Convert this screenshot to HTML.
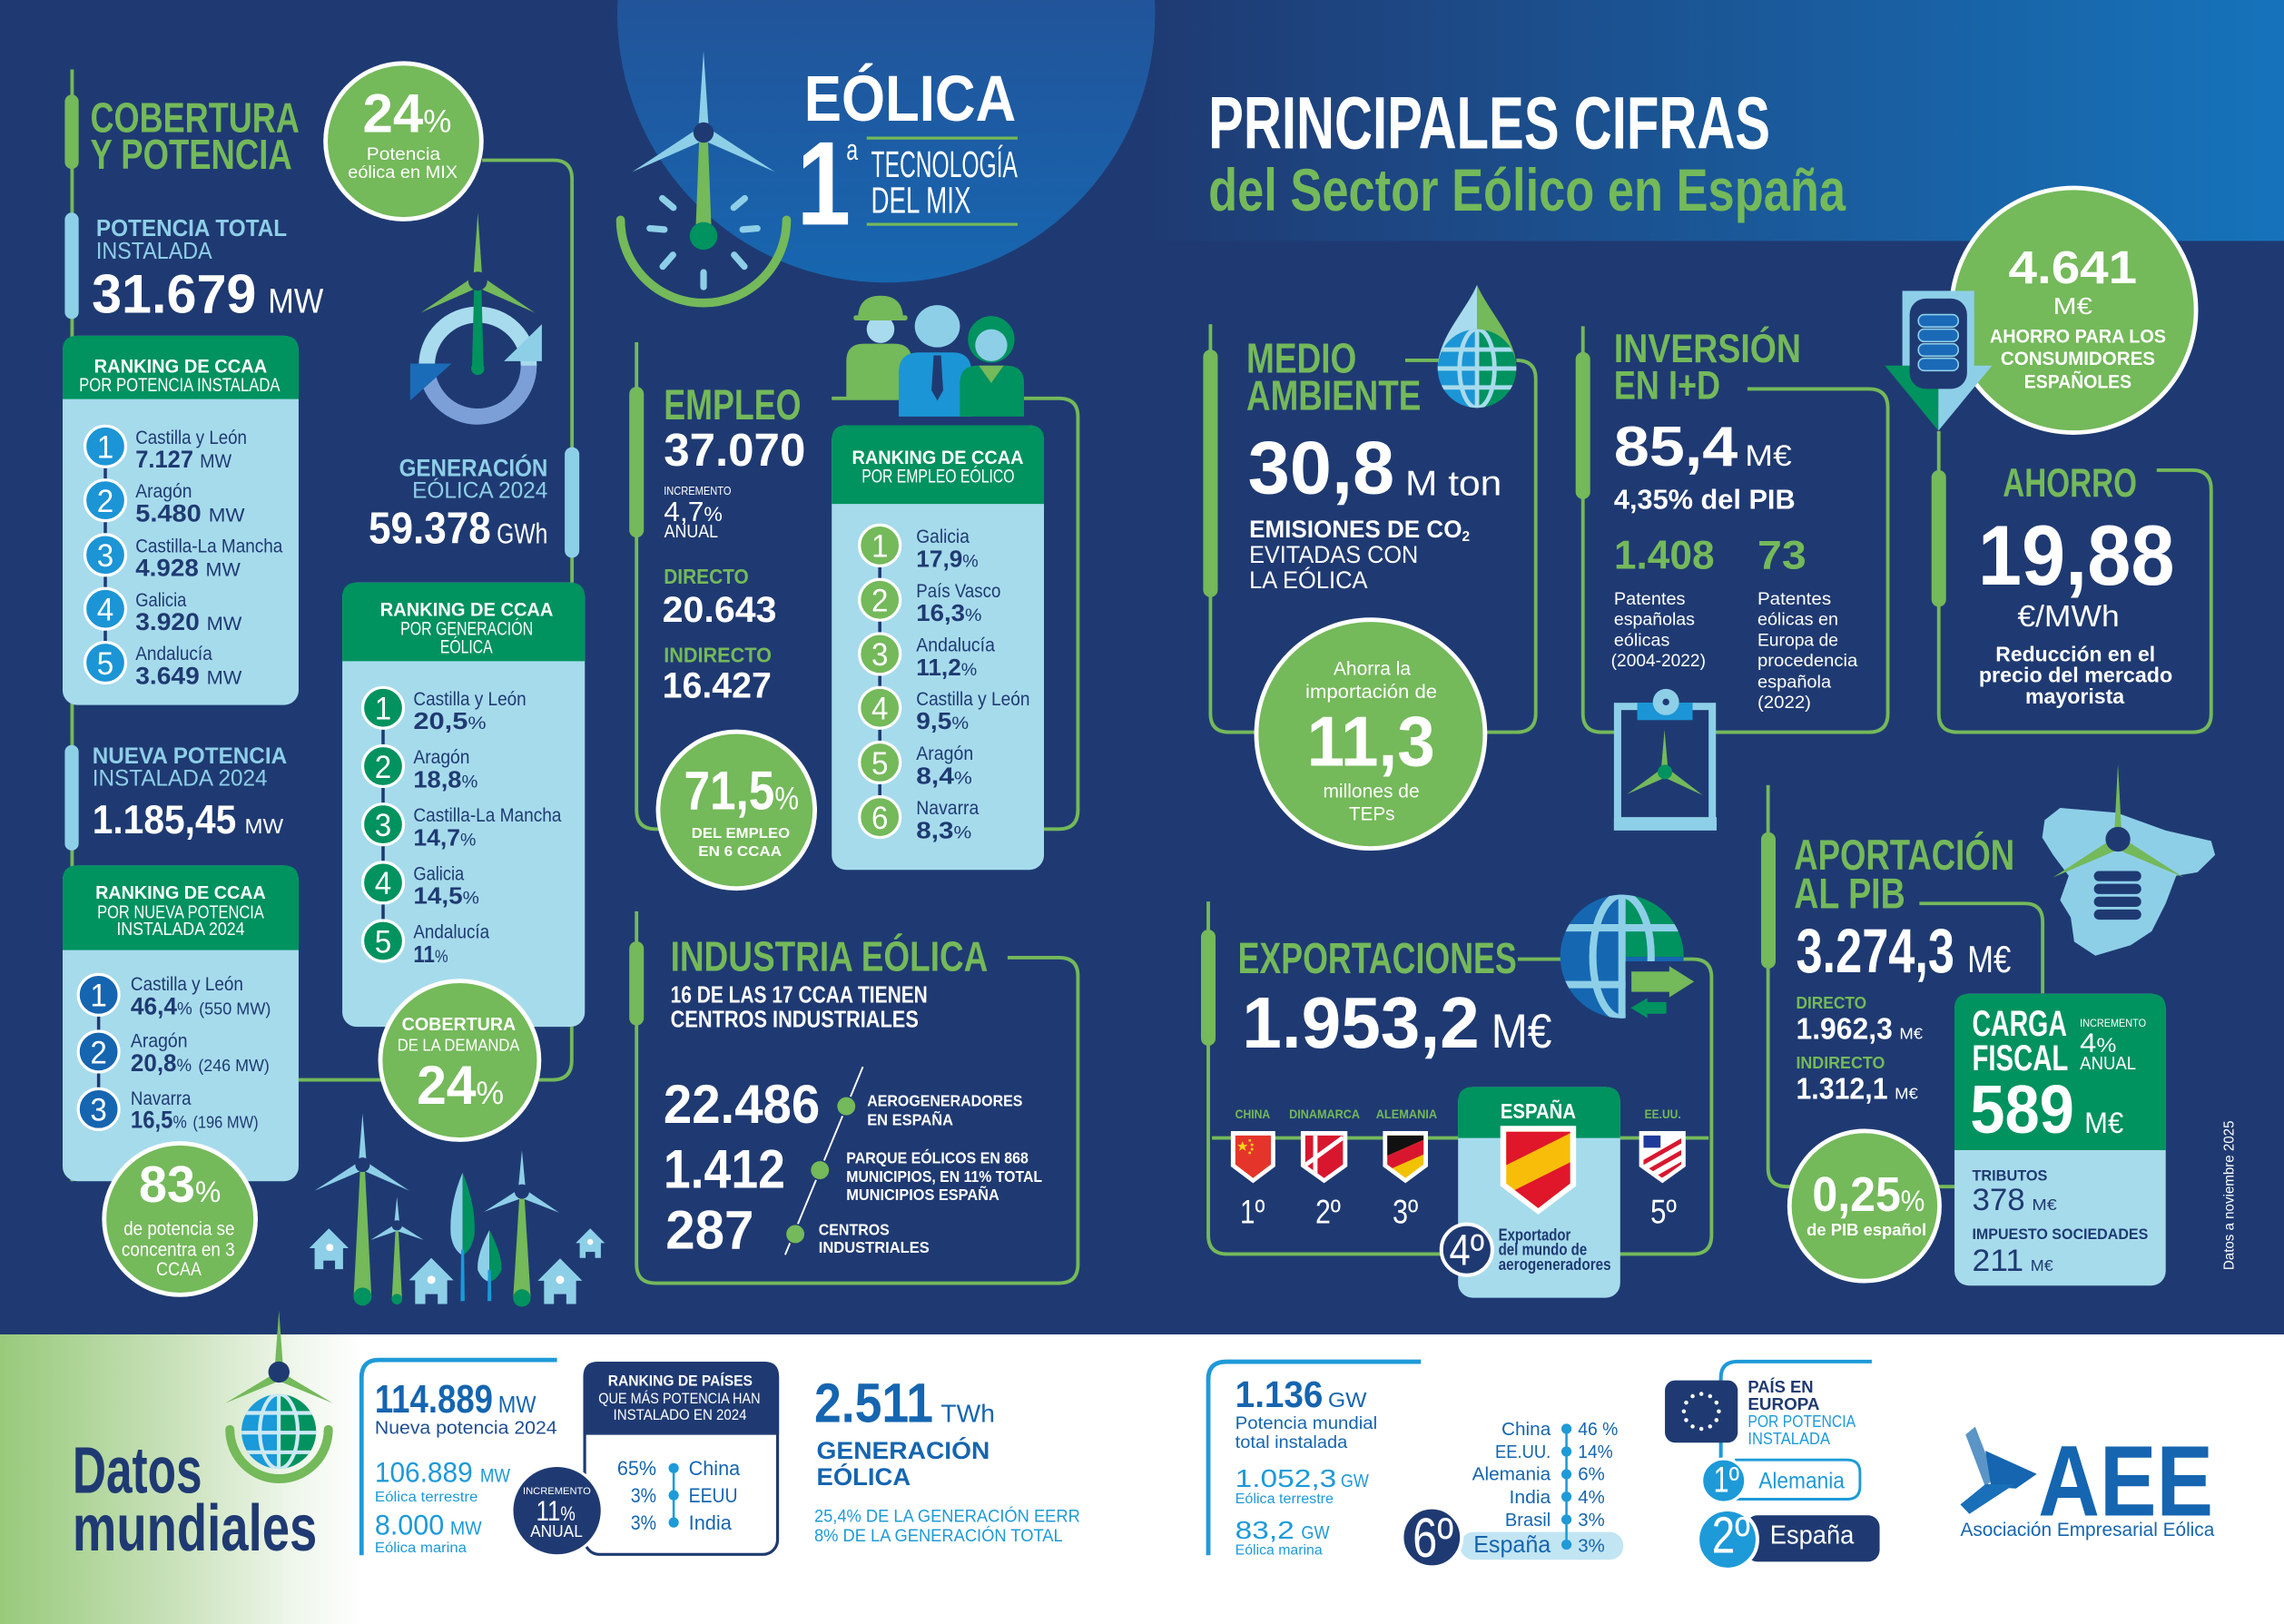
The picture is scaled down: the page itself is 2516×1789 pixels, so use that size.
<!DOCTYPE html>
<html><head><meta charset="utf-8">
<style>
html,body{margin:0;padding:0;width:2516px;height:1789px;overflow:hidden;background:#1f3a72}
svg{display:block}
text{font-family:"Liberation Sans",sans-serif;fill:#fff}
.b{font-weight:700}.g{fill:#74b95a}.lb{fill:#8ecfe8}.n{fill:#1f3a72}.bl{fill:#1565b0}.cy{fill:#1e9ad8}.nb{fill:#1f4e93}
.s{font-weight:400}.m{text-anchor:middle}.e{text-anchor:end}
</style></head><body>
<svg width="2516" height="1789" viewBox="0 0 1568 1115" preserveAspectRatio="none" xmlns="http://www.w3.org/2000/svg">
<defs>
<linearGradient id="band" x1="0" x2="1" y1="0" y2="0"><stop offset="0" stop-color="#1f3a72"/><stop offset=".5" stop-color="#1f3a72"/><stop offset="1" stop-color="#1673bb"/></linearGradient>
<linearGradient id="circ" x1="0" x2="0" y1="0" y2="1"><stop offset="0" stop-color="#2b4486"/><stop offset="1" stop-color="#1766b0"/></linearGradient>
<linearGradient id="gw" x1="0" x2="1" y1="0" y2="0"><stop offset="0" stop-color="#98ca7b"/><stop offset=".45" stop-color="#c6e0b6"/><stop offset=".8" stop-color="#eef6ea"/><stop offset="1" stop-color="#ffffff"/></linearGradient>
<clipPath id="cg1"><circle cx="1014" cy="253" r="27"/></clipPath>
<clipPath id="cg2"><circle cx="1113.5" cy="656.7" r="42.4"/></clipPath>
<clipPath id="cg3"><circle cx="191.4" cy="982.8" r="25.6"/></clipPath>
<clipPath id="fc"><path d="M848 779.6H872.5V799.5L860.25 808.8L848 799.5Z"/></clipPath>
<clipPath id="fd"><path d="M896 779.6H922V799.5L909 808.8L896 799.5Z"/></clipPath>
<clipPath id="fg"><path d="M952.4 779.6H977.3V799.5L964.85 808.8L952.4 799.5Z"/></clipPath>
<clipPath id="fu"><path d="M1128.3 779.6H1154.2V799.5L1141.25 808.8L1128.3 799.5Z"/></clipPath>
<clipPath id="fe"><path d="M1034 777H1078V812.5L1056 829.5L1034 812.5Z"/></clipPath>
</defs>

<!-- backgrounds -->
<rect width="1568" height="1115" fill="#1f3a72"/>
<rect x="0" y="0" width="1568" height="165.4" fill="url(#band)"/>
<circle cx="608.4" cy="9.4" r="184.6" fill="url(#circ)"/>
<rect x="0" y="916.2" width="1568" height="198.8" fill="#fff"/>
<rect x="0" y="916.2" width="250" height="198.8" fill="url(#gw)"/>

<!-- green connector lines -->
<g fill="none" stroke="#74b95a" stroke-width="2.4">
<path d="M49.5 47.7V811"/>
<path d="M331 110H380Q392.7 110 392.7 123V400"/>
<path d="M392.5 705V728Q392.5 741.4 379 741.4H368"/>
<path d="M205 741.4H262"/>
<path d="M437 235V556Q437 569.2 450 569.2H453"/>
<path d="M571 273.5H727Q740 273.5 740 286V556Q740 569.2 727 569.2H715"/>
<path d="M437 625.7V868Q437 881 450 881H727Q740 881 740 868V670Q740 657.5 727 657.5H691.7"/>
<path d="M831 222.6V490Q831 502.7 844 502.7H1041Q1054.3 502.7 1054.3 490V260Q1054.3 247.4 1041 247.4"/>
<path d="M964.7 247.4H988"/>
<path d="M1086.7 224V490Q1086.7 502.7 1099.5 502.7H1283Q1296 502.7 1296 490V280Q1296 267 1283 267H1199.6"/>
<path d="M1331 296V490Q1331 502.7 1344 502.7H1505Q1518 502.7 1518 490V336Q1518 322.8 1505 322.8H1480.6"/>
<path d="M829.5 619V848Q829.5 861 842.5 861H1162Q1175 861 1175 848V671Q1175 658.5 1162 658.5H1150"/>
<path d="M1042 658.5H1072"/>
<path d="M832 781.3H1173"/>
<path d="M1213.8 539V802Q1213.8 814.7 1226.5 814.7H1342"/>
<path d="M1317.7 620.3H1390Q1402.3 620.3 1402.3 633V682"/>
</g>
<!-- pills -->
<g fill="#74b95a">
<rect x="44.5" y="65" width="9.5" height="51" rx="4.7"/>
<rect x="432" y="265.5" width="10" height="103.5" rx="5"/>
<rect x="432" y="646.3" width="10" height="57.7" rx="5"/>
<rect x="826" y="240" width="10" height="170" rx="5"/>
<rect x="1081.7" y="241.7" width="10" height="101" rx="5"/>
<rect x="1326" y="322.8" width="10" height="93.8" rx="5"/>
<rect x="824.5" y="638.2" width="10" height="79.8" rx="5"/>
<rect x="1209" y="571.4" width="10" height="93.6" rx="5"/>
</g>
<g fill="#8ecfe8">
<rect x="44.5" y="146" width="9.5" height="73" rx="4.7"/>
<rect x="44.5" y="511.5" width="9.5" height="72.4" rx="4.7"/>
<rect x="387.7" y="307" width="10" height="76" rx="5"/>
</g>

<!-- ranking boxes -->
<rect x="43" y="230.5" width="162" height="253.5" rx="10" fill="#a6dbec"/>
<path d="M43 274V240.5Q43 230.5 53 230.5H195Q205 230.5 205 240.5V274Z" fill="#00925f"/>
<rect x="235" y="400" width="166.5" height="305" rx="10" fill="#a6dbec"/>
<path d="M235 454V410Q235 400 245 400H391.5Q401.5 400 401.5 410V454Z" fill="#00925f"/>
<rect x="43" y="594.2" width="162" height="216.8" rx="10" fill="#a6dbec"/>
<path d="M43 652.3V604.2Q43 594.2 53 594.2H195Q205 594.2 205 604.2V652.3Z" fill="#00925f"/>
<rect x="571" y="292" width="145.7" height="305.2" rx="10" fill="#a6dbec"/>
<path d="M571 346V302Q571 292 581 292H706.7Q716.7 292 716.7 302V346Z" fill="#00925f"/>
<rect x="1001" y="746.3" width="111.3" height="144.7" rx="10" fill="#a6dbec"/>
<path d="M1001 781.3V756.3Q1001 746.3 1011 746.3H1102.3Q1112.3 746.3 1112.3 756.3V781.3Z" fill="#00925f"/>
<rect x="1341.8" y="682.3" width="145" height="200.4" rx="10" fill="#a6dbec"/>
<path d="M1341.8 789.7V692.3Q1341.8 682.3 1351.8 682.3H1476.8Q1486.8 682.3 1486.8 692.3V789.7Z" fill="#00925f"/>

<!-- badge connector lines -->
<g stroke="#1f3a72" stroke-width="2.2">
<line x1="72.3" y1="306" x2="72.3" y2="455"/>
<line x1="263" y1="486" x2="263" y2="646"/>
<line x1="67.7" y1="683" x2="67.7" y2="761.5"/>
<line x1="604" y1="374.5" x2="604" y2="561"/>
</g>
<!-- badges -->
<g stroke="#fff" stroke-width="2">
<g fill="#1b95d5"><circle cx="72.3" cy="306.5" r="14"/><circle cx="72.3" cy="343.5" r="14"/><circle cx="72.3" cy="381" r="14"/><circle cx="72.3" cy="418" r="14"/><circle cx="72.3" cy="455" r="14"/></g>
<g fill="#00925f"><circle cx="263" cy="486" r="14"/><circle cx="263" cy="526" r="14"/><circle cx="263" cy="566" r="14"/><circle cx="263" cy="606" r="14"/><circle cx="263" cy="646" r="14"/></g>
<g fill="#1565b0"><circle cx="67.7" cy="683" r="14"/><circle cx="67.7" cy="722" r="14"/><circle cx="67.7" cy="761.5" r="14"/></g>
<g fill="#74b95a"><circle cx="604" cy="374.5" r="14"/><circle cx="604" cy="411.8" r="14"/><circle cx="604" cy="449" r="14"/><circle cx="604" cy="486" r="14"/><circle cx="604" cy="523.5" r="14"/><circle cx="604" cy="561" r="14"/></g>
</g>
<g font-size="22" class="m">
<text x="72.3" y="314.5" class="m" textLength="11.5" lengthAdjust="spacingAndGlyphs">1</text>
<text x="72.3" y="351.5" class="m" textLength="11.5" lengthAdjust="spacingAndGlyphs">2</text>
<text x="72.3" y="389" class="m" textLength="11.5" lengthAdjust="spacingAndGlyphs">3</text>
<text x="72.3" y="426" class="m" textLength="11.5" lengthAdjust="spacingAndGlyphs">4</text>
<text x="72.3" y="463" class="m" textLength="11.5" lengthAdjust="spacingAndGlyphs">5</text>
<text x="263" y="494" class="m" textLength="11.5" lengthAdjust="spacingAndGlyphs">1</text>
<text x="263" y="534" class="m" textLength="11.5" lengthAdjust="spacingAndGlyphs">2</text>
<text x="263" y="574" class="m" textLength="11.5" lengthAdjust="spacingAndGlyphs">3</text>
<text x="263" y="614" class="m" textLength="11.5" lengthAdjust="spacingAndGlyphs">4</text>
<text x="263" y="654" class="m" textLength="11.5" lengthAdjust="spacingAndGlyphs">5</text>
<text x="67.7" y="691" class="m" textLength="11.5" lengthAdjust="spacingAndGlyphs">1</text>
<text x="67.7" y="730" class="m" textLength="11.5" lengthAdjust="spacingAndGlyphs">2</text>
<text x="67.7" y="769.5" class="m" textLength="11.5" lengthAdjust="spacingAndGlyphs">3</text>
<text x="604" y="382.5" class="m" textLength="11.5" lengthAdjust="spacingAndGlyphs">1</text>
<text x="604" y="419.8" class="m" textLength="11.5" lengthAdjust="spacingAndGlyphs">2</text>
<text x="604" y="457" class="m" textLength="11.5" lengthAdjust="spacingAndGlyphs">3</text>
<text x="604" y="494" class="m" textLength="11.5" lengthAdjust="spacingAndGlyphs">4</text>
<text x="604" y="531.5" class="m" textLength="11.5" lengthAdjust="spacingAndGlyphs">5</text>
<text x="604" y="569" class="m" textLength="11.5" lengthAdjust="spacingAndGlyphs">6</text>
</g>

<!-- big green circles -->
<g fill="#74b95a" stroke="#fff" stroke-width="3">
<circle cx="277" cy="97" r="53.5"/>
<circle cx="123.5" cy="837" r="52"/>
<circle cx="315.6" cy="728" r="54.5"/>
<circle cx="505.6" cy="556.2" r="53.8"/>
<circle cx="941" cy="504" r="78.5"/>
<circle cx="1423.6" cy="213" r="84"/>
<circle cx="1280" cy="828" r="51.5"/>
</g>

<!-- gauge icon -->
<path d="M426 151A57 57 0 0 0 540 151" fill="none" stroke="#74b95a" stroke-width="6" stroke-linecap="round"/>
<g stroke="#8ecfe8" stroke-width="4.5" stroke-linecap="round">
<line x1="462.3" y1="142.6" x2="454.7" y2="136.2"/><line x1="503.7" y1="142.6" x2="511.3" y2="136.2"/>
<line x1="456.1" y1="157.6" x2="446.1" y2="156.8"/><line x1="509.9" y1="157.6" x2="519.9" y2="156.8"/>
<line x1="462" y1="175" x2="455" y2="183"/><line x1="504" y1="175" x2="511" y2="183"/>
<line x1="483" y1="187" x2="483" y2="197"/>
</g>
<polygon points="483,35 486.5,88 479.5,88" fill="#8ecfe8"/>
<polygon points="479.5,88 434,118 484,96" fill="#8ecfe8"/>
<polygon points="486.5,88 532,118 482,96" fill="#8ecfe8"/>
<polygon points="480,96 486,96 488.5,160 477.5,160" fill="#74b95a"/>
<circle cx="483" cy="91" r="7" fill="#1f3a72"/>
<circle cx="483" cy="162" r="9.5" fill="#00925f"/>
<line x1="595" y1="94.8" x2="698.6" y2="94.8" stroke="#74b95a" stroke-width="2"/>
<line x1="595" y1="154" x2="698.6" y2="154" stroke="#74b95a" stroke-width="2"/>

<!-- turbine + ring icon -->
<circle cx="328" cy="251" r="35" fill="none" stroke="#7d9fd8" stroke-width="11"/>
<path d="M293 251A35 35 0 0 1 363 251" fill="none" stroke="#a8dbed" stroke-width="11"/>
<polygon points="281.6,275 281.6,249.6 310,249.6" fill="#1a6bb8"/>
<polygon points="372,222.6 372,248 346,248" fill="#8ecfe8"/>
<polygon points="328,146 331,190 325,190" fill="#74b95a"/>
<polygon points="325,190 289,214.6 329,197" fill="#74b95a"/>
<polygon points="331,190 367,214.6 327,197" fill="#74b95a"/>
<polygon points="325.5,197 330.5,197 332,253 324,253" fill="#00925f"/>
<circle cx="328" cy="253" r="4.5" fill="#00925f"/>
<circle cx="328" cy="193" r="6.5" fill="#1f3a72"/>

<!-- people icon -->
<path d="M581 273V248Q581 236 593 236H614Q626 236 626 248V273Z" fill="#74b95a"/>
<circle cx="604.5" cy="226" r="9.5" fill="#a8dbed"/>
<path d="M589 219Q589 203 604.5 203Q620 203 620 219Z" fill="#74b95a"/>
<rect x="586" y="216.5" width="37" height="3.5" rx="1.5" fill="#74b95a"/>
<path d="M617 286V256Q617 242 631 242H654Q667 242 667 256V286Z" fill="#1b95d5"/>
<ellipse cx="643.5" cy="224" rx="15.5" ry="14.5" fill="#8ecfe8"/>
<polygon points="641,244 646,244 647.5,268 643.5,275 639.5,268" fill="#1f3a72"/>
<circle cx="680.5" cy="233" r="16" fill="#00925f"/>
<path d="M659 286V263Q659 251 671 251H691Q703 251 703 263V286Z" fill="#00925f"/>
<circle cx="680.5" cy="237" r="11" fill="#8ecfe8"/>
<polygon points="672,251 680.5,263 689,251" fill="#74b95a"/>

<!-- Medio ambiente drop/globe -->
<path d="M1014 195.6C1006 214 987 232 987 253H1014Z" fill="#a8dbed"/>
<path d="M1014 195.6C1022 214 1041 232 1041 253H1014Z" fill="#74b95a"/>
<g clip-path="url(#cg1)">
<rect x="986" y="225" width="28" height="56" fill="#1b95d5"/><rect x="1014" y="225" width="28" height="56" fill="#00925f"/>
<g stroke="#a8dbed" stroke-width="3" fill="none"><path d="M986 240H1042M986 253H1042M986 266H1042M1014 225V281"/><ellipse cx="1014" cy="253" rx="12" ry="27"/></g>
</g>

<!-- clipboard -->
<rect x="1110.5" y="485" width="65" height="82" fill="#1f3a72" stroke="#8ecfe8" stroke-width="5"/>
<rect x="1108" y="561" width="70.5" height="9.2" fill="#8ecfe8"/>
<rect x="1124" y="482.4" width="38" height="12" fill="#1b95d5"/>
<circle cx="1143.7" cy="482" r="9" fill="#8ecfe8"/>
<circle cx="1143.7" cy="482" r="2.3" fill="#1f3a72"/>
<polygon points="1142.7,501 1145,527 1140.5,527" fill="#74b95a"/>
<polygon points="1140.5,528 1117,545.3 1143,534" fill="#74b95a"/>
<polygon points="1145.5,528 1168.8,545.9 1143,534" fill="#74b95a"/>
<circle cx="1143" cy="530" r="5" fill="#00925f"/>

<!-- battery arrow -->
<rect x="1306" y="199.7" width="49.3" height="52" fill="#8ecfe8"/>
<polygon points="1294,251 1330.7,251 1330.7,295.7" fill="#00925f"/>
<polygon points="1330.7,251 1367.6,251 1330.7,295.7" fill="#8ecfe8"/>
<rect x="1311" y="205" width="39.4" height="62" rx="11" fill="#1f3a72"/>
<g fill="#1b6ab8" stroke="#8ecfe8" stroke-width="1"><rect x="1317" y="216" width="27.4" height="8.5" rx="4"/><rect x="1317" y="226" width="27.4" height="8.5" rx="4"/><rect x="1317" y="236" width="27.4" height="8.5" rx="4"/><rect x="1317" y="246" width="27.4" height="8.5" rx="4"/></g>

<!-- export globe -->
<g clip-path="url(#cg2)">
<rect x="1070" y="613" width="43.5" height="88" fill="#1567b2"/><rect x="1113.5" y="613" width="44" height="44" fill="#00925f"/><rect x="1113.5" y="657" width="44" height="44" fill="#1567b2"/>
<g stroke="#8ecfe8" stroke-width="5" fill="none"><path d="M1070 637H1157M1070 676H1157M1113.5 613V701"/><ellipse cx="1113.5" cy="656.7" rx="20" ry="42.4"/></g>
</g>
<rect x="1116" y="660" width="48" height="42" fill="#1f3a72"/>
<polygon points="1120,667 1146,667 1146,663.3 1163,674 1146,684.7 1146,681 1120,681" fill="#74b95a"/>
<polygon points="1144,688 1131,688 1131,685.2 1119.5,692 1131,699 1131,696 1144,696" fill="#00925f"/>

<!-- flags -->
<g fill="#fff">
<path d="M845 776.6H875.5V800.9L860.25 812.3L845 800.9Z"/>
<path d="M893 776.6H925V800.9L909 812.3L893 800.9Z"/>
<path d="M949.4 776.6H980.3V800.9L964.85 812.3L949.4 800.9Z"/>
<path d="M1125.3 776.6H1157.2V800.9L1141.25 812.3L1125.3 800.9Z"/>
<path d="M1030 773H1082V814.3L1056 833.8L1030 814.3Z"/>
</g>
<g clip-path="url(#fc)"><rect x="845" y="776" width="31" height="36" fill="#e5352b"/>
<polygon points="853,783.5 854,786 856.5,786 854.5,787.6 855.3,790.2 853,788.6 850.7,790.2 851.5,787.6 849.5,786 852,786" fill="#f9d616"/>
<circle cx="858" cy="783" r=".9" fill="#f9d616"/><circle cx="859.5" cy="786" r=".9" fill="#f9d616"/><circle cx="859.5" cy="789" r=".9" fill="#f9d616"/><circle cx="858" cy="791.5" r=".9" fill="#f9d616"/></g>
<g clip-path="url(#fd)"><rect x="893" y="776" width="32" height="36" fill="#d8172f"/><path d="M896 800L922 781M903 779V810" stroke="#fff" stroke-width="3"/></g>
<g clip-path="url(#fg)"><rect x="949" y="776" width="32" height="36" fill="#f2c200"/><polygon points="949,776 981,776 981,781 949,795" fill="#111"/><polygon points="949,795 981,781 981,791 949,805" fill="#d8172f"/></g>
<g clip-path="url(#fu)"><rect x="1125" y="776" width="33" height="36" fill="#fff"/><path d="M1125 800L1160 780M1125 808L1160 788M1125 816L1160 796" stroke="#d8172f" stroke-width="3"/><rect x="1127" y="778" width="13" height="10" fill="#1f3a9a"/></g>
<g clip-path="url(#fe)"><rect x="1030" y="773" width="52" height="61" fill="#f8bd08"/><polygon points="1030,773 1082,773 1082,776 1030,802" fill="#e0162b"/><polygon points="1030,822 1082,796 1082,834 1030,834" fill="#e0162b"/></g>
<circle cx="1007" cy="858" r="17.5" fill="#1f3a72" stroke="#fff" stroke-width="2.5"/>

<!-- Spain map -->
<polygon points="1403.7,563 1414.3,554.7 1453,558 1486.8,570.2 1518,577.4 1520.7,587 1508.6,598.9 1494,601.3 1486.8,620.3 1477.2,639.4 1462.7,649 1438.5,656.1 1424,646.6 1421.6,629.9 1414.3,618 1420.2,601.3 1409.5,587 1402,575" fill="#8ecfe8"/>
<g fill="#1f3a72"><rect x="1437.5" y="598" width="32.5" height="7" rx="3.5"/><rect x="1437.5" y="606.8" width="32.5" height="7" rx="3.5"/><rect x="1437.5" y="615.6" width="32.5" height="7" rx="3.5"/><rect x="1437.5" y="624.4" width="32.5" height="7" rx="3.5"/></g>
<polygon points="1454,524.5 1456.5,572 1451.5,572" fill="#74b95a"/>
<polygon points="1450,576 1409.5,602.4 1455,583" fill="#74b95a"/>
<polygon points="1458,576 1499,602.4 1453,583" fill="#74b95a"/>
<circle cx="1454" cy="576.2" r="8.5" fill="#1f3a72"/>

<!-- illustration turbines/trees/houses -->
<g fill="#74b95a">
<polygon points="247.4,800 250.4,800 255,890 242.8,890"/><circle cx="248.9" cy="890.2" r="6.2" fill="#00925f"/>
<polygon points="271.6,842 273.4,842 276,892 269,892"/><circle cx="272.5" cy="892" r="3.6" fill="#00925f"/>
<polygon points="356.8,818 359.8,818 364.3,891 352.3,891"/><circle cx="358.3" cy="891.2" r="6" fill="#00925f"/>
</g>
<g fill="#8ecfe8">
<polygon points="248.9,764.5 251.5,797 246.3,797"/><polygon points="246,798 216,817.5 250,803"/><polygon points="252,798 280.9,817.5 247.8,803"/>
<polygon points="272.5,821.6 274.3,840 270.7,840"/><polygon points="270.5,841 254.5,851.3 273,845"/><polygon points="274.5,841 290.8,851.3 272,845"/>
<polygon points="358.3,789.8 360.8,816 355.8,816"/><polygon points="355.5,817 332.4,832 360,822"/><polygon points="361,817 383.9,832.6 356.6,822"/>
</g>
<circle cx="248.9" cy="799.7" r="5" fill="#1f3a72"/><circle cx="272.5" cy="841.3" r="3.5" fill="#1f3a72"/><circle cx="358.3" cy="818.1" r="5" fill="#1f3a72"/>
<path d="M317.6 805Q308 828 309.5 848Q311 858 317.6 862Z" fill="#8ecfe8"/>
<path d="M317.6 805Q327 828 325.7 848Q324 858 317.6 862Z" fill="#00925f"/>
<path d="M316.6 858H318.6L319 893.3H316.2Z" fill="#1a9ad8"/>
<path d="M336 844.4Q327 862 328 872Q331 879 336 880Z" fill="#8ecfe8"/>
<path d="M336 844.4Q345 862 344.3 872Q341 879 336 880Z" fill="#00925f"/>
<path d="M335 872H337L337.3 893.3H334.7Z" fill="#1a9ad8"/>
<g fill="#8ecfe8">
<path d="M225.8 843.4L239.3 857H235.5V871.4H216V857H212.3Z"/>
<path d="M296.1 863.7L311.4 879H307V895.3H285V879H280.8Z"/>
<path d="M384.5 864L399.7 879.3H395.5V895.3H373.5V879.3H369.2Z"/>
<path d="M405.2 843.4L415.2 853.5H412.5V863.7H398V853.5H395.2Z"/>
</g>
<g fill="#fff"><circle cx="226.4" cy="856.5" r="2.5"/><circle cx="296.1" cy="878.7" r="2.8"/><circle cx="384.5" cy="878.7" r="2.8"/><circle cx="405.2" cy="852.7" r="2"/></g>
<g fill="#1f3a72"><rect x="222" y="865.5" width="8" height="6"/><rect x="292" y="888.5" width="8.5" height="7"/><rect x="380.3" y="888.5" width="8.5" height="7"/><rect x="402" y="859.5" width="6.5" height="4.5"/></g>

<!-- bottom left icon -->
<polygon points="191.5,899.9 194.3,938 188.7,938" fill="#74b95a"/>
<polygon points="188.5,943 154.7,963.4 192,948" fill="#74b95a"/>
<polygon points="194.5,943 228.5,963.4 191,948" fill="#74b95a"/>
<circle cx="191.5" cy="942" r="7.3" fill="#1f3a72"/>
<path d="M157.8 981.5A33.8 33.8 0 0 0 225.4 981.5" fill="none" stroke="#74b95a" stroke-width="6.2" stroke-linecap="round"/>
<g clip-path="url(#cg3)">
<rect x="165" y="957" width="26.4" height="52" fill="#1a9ad8"/><rect x="191.4" y="957" width="26.4" height="52" fill="#00925f"/>
<g stroke="#cde9f5" stroke-width="2.6" fill="none"><path d="M165 970.1H218M165 983.6H218M165 997.1H218M191.4 957V1009"/><ellipse cx="191.4" cy="982.8" rx="13" ry="25.6"/></g>
</g>

<!-- bottom boxes -->
<path d="M248.2 1067.8V946Q248.2 933.7 260 933.7H382.4" fill="none" stroke="#1e9ad8" stroke-width="3"/>
<rect x="401.4" y="935.9" width="132.4" height="131.3" rx="10" fill="#fff" stroke="#1f3a72" stroke-width="2"/>
<path d="M400.4 985.1V945Q400.4 934.9 410.5 934.9H524.7Q534.8 934.9 534.8 945V985.1Z" fill="#1f3a72"/>
<circle cx="382.4" cy="1037.2" r="31" fill="#1f3a72" stroke="#fff" stroke-width="2"/>
<line x1="462.5" y1="1008" x2="462.5" y2="1045.3" stroke="#1e9ad8" stroke-width="1.6"/>
<g fill="#1e9ad8"><circle cx="462.5" cy="1008" r="3.5"/><circle cx="462.5" cy="1026.6" r="3.5"/><circle cx="462.5" cy="1045.3" r="3.5"/></g>
<path d="M829.5 1067.8V947Q829.5 934.9 842 934.9H975.5" fill="none" stroke="#1e9ad8" stroke-width="3"/>
<rect x="1002.3" y="1051.8" width="112.2" height="19.1" rx="9.5" fill="#c2e5f3"/>
<line x1="1075.4" y1="981" x2="1075.4" y2="1060.5" stroke="#1e9ad8" stroke-width="1.6"/>
<g fill="#1e9ad8"><circle cx="1075.4" cy="981" r="3.5"/><circle cx="1075.4" cy="996.6" r="3.5"/><circle cx="1075.4" cy="1012.2" r="3.5"/><circle cx="1075.4" cy="1027.6" r="3.5"/><circle cx="1075.4" cy="1043.3" r="3.5"/><circle cx="1075.4" cy="1060.5" r="3.5"/></g>
<circle cx="983" cy="1055.5" r="20.5" fill="#1f3a72" stroke="#fff" stroke-width="2.5"/>
<path d="M1181.4 948V946Q1181.4 934.8 1193 934.8H1285" fill="none" stroke="#1e9ad8" stroke-width="2.5"/>
<line x1="1181.4" y1="990" x2="1181.4" y2="1002" stroke="#1e9ad8" stroke-width="2.5"/>
<rect x="1143" y="947.7" width="50" height="42.8" rx="7" fill="#1f3a72"/>
<g fill="#fff"><circle cx="1180" cy="969" r="1.4"/><circle cx="1178.4" cy="975" r="1.4"/><circle cx="1174" cy="979.4" r="1.4"/><circle cx="1168" cy="981" r="1.4"/><circle cx="1162" cy="979.4" r="1.4"/><circle cx="1157.6" cy="975" r="1.4"/><circle cx="1156" cy="969" r="1.4"/><circle cx="1157.6" cy="963" r="1.4"/><circle cx="1162" cy="958.6" r="1.4"/><circle cx="1168" cy="957" r="1.4"/><circle cx="1174" cy="958.6" r="1.4"/><circle cx="1178.4" cy="963" r="1.4"/></g>
<path d="M1191 1002.3H1268Q1276.9 1002.3 1276.9 1011V1020.5Q1276.9 1029.3 1268 1029.3H1191" fill="#fff" stroke="#1e9ad8" stroke-width="1.8"/>
<circle cx="1183.3" cy="1016.6" r="15" fill="#1e9ad8" stroke="#fff" stroke-width="2"/>
<rect x="1198.5" y="1040.4" width="91.9" height="31.8" rx="8" fill="#1f3a72"/>
<circle cx="1186" cy="1057" r="20.5" fill="#1e9ad8" stroke="#fff" stroke-width="2.5"/>
<!-- AEE mark -->
<polygon points="1349.4,985 1356,979.5 1369.4,1014 1363,1021" fill="#5b94c6"/>
<polygon points="1363,996 1398.3,1012 1384,1022 1367,1021" fill="#1565b0"/>
<polygon points="1363,1019 1383.2,1019 1352,1039.4 1345.8,1033" fill="#1a6fb9"/>

<!-- ========== TEXT ========== -->
<!-- left column -->
<text x="62" y="90.6" font-size="28.8" textLength="143.6" lengthAdjust="spacingAndGlyphs" class="g b">COBERTURA</text>
<text x="62" y="116" font-size="28.8" textLength="138.5" lengthAdjust="spacingAndGlyphs" class="g b">Y POTENCIA</text>
<text x="279.5" y="90.6" font-size="37.7" textLength="61" lengthAdjust="spacingAndGlyphs" class="b m">24<tspan class="s" font-size="22">%</tspan></text>
<text x="277" y="109.7" font-size="12" textLength="50.7" lengthAdjust="spacingAndGlyphs" class="m">Potencia</text>
<text x="276.5" y="122.2" font-size="12" textLength="75.3" lengthAdjust="spacingAndGlyphs" class="m">eólica en MIX</text>
<text x="66" y="162" font-size="16" textLength="131" lengthAdjust="spacingAndGlyphs" class="lb b">POTENCIA TOTAL</text>
<text x="66" y="177.5" font-size="16" textLength="79.6" lengthAdjust="spacingAndGlyphs" class="lb">INSTALADA</text>
<text x="63" y="214.7" font-size="37.7" textLength="113" lengthAdjust="spacingAndGlyphs" class="b">31.679</text>
<text x="184" y="214.7" font-size="23.7" textLength="38" lengthAdjust="spacingAndGlyphs">MW</text>
<text x="124" y="256" font-size="13.3" textLength="118.8" lengthAdjust="spacingAndGlyphs" class="b m">RANKING DE CCAA</text>
<text x="123.3" y="268.7" font-size="13.3" textLength="138" lengthAdjust="spacingAndGlyphs" class="m">POR POTENCIA INSTALADA</text>
<text x="93" y="304.7" font-size="13.3" textLength="76.5" lengthAdjust="spacingAndGlyphs" class="n">Castilla y León</text>
<text x="93" y="321.1" font-size="16.8" textLength="66" lengthAdjust="spacingAndGlyphs" class="n b">7.127 <tspan class="s" font-size="13">MW</tspan></text>
<text x="93" y="341.7" font-size="13.3" textLength="38.8" lengthAdjust="spacingAndGlyphs" class="n">Aragón</text>
<text x="93" y="358.1" font-size="16.8" textLength="75" lengthAdjust="spacingAndGlyphs" class="n b">5.480 <tspan class="s" font-size="13">MW</tspan></text>
<text x="93" y="379.2" font-size="13.3" textLength="101" lengthAdjust="spacingAndGlyphs" class="n">Castilla-La Mancha</text>
<text x="93" y="395.6" font-size="16.8" textLength="72" lengthAdjust="spacingAndGlyphs" class="n b">4.928 <tspan class="s" font-size="13">MW</tspan></text>
<text x="93" y="416.2" font-size="13.3" textLength="35" lengthAdjust="spacingAndGlyphs" class="n">Galicia</text>
<text x="93" y="432.6" font-size="16.8" textLength="73" lengthAdjust="spacingAndGlyphs" class="n b">3.920 <tspan class="s" font-size="13">MW</tspan></text>
<text x="93" y="453.2" font-size="13.3" textLength="52.7" lengthAdjust="spacingAndGlyphs" class="n">Andalucía</text>
<text x="93" y="469.6" font-size="16.8" textLength="73" lengthAdjust="spacingAndGlyphs" class="n b">3.649 <tspan class="s" font-size="13">MW</tspan></text>
<text x="63.4" y="524.3" font-size="15.4" textLength="133.6" lengthAdjust="spacingAndGlyphs" class="lb b">NUEVA POTENCIA</text>
<text x="63.4" y="539.4" font-size="15.4" textLength="120.2" lengthAdjust="spacingAndGlyphs" class="lb">INSTALADA 2024</text>
<text x="63.4" y="572.2" font-size="27.8" textLength="98.8" lengthAdjust="spacingAndGlyphs" class="b">1.185,45</text>
<text x="168" y="572.2" font-size="14.4" textLength="26.6" lengthAdjust="spacingAndGlyphs">MW</text>
<text x="124" y="617" font-size="12.5" textLength="117" lengthAdjust="spacingAndGlyphs" class="b m">RANKING DE CCAA</text>
<text x="124" y="630.3" font-size="12.5" textLength="114.5" lengthAdjust="spacingAndGlyphs" class="m">POR NUEVA POTENCIA</text>
<text x="124" y="642" font-size="12.5" textLength="88" lengthAdjust="spacingAndGlyphs" class="m">INSTALADA 2024</text>
<text x="89.7" y="680" font-size="13.3" textLength="77.3" lengthAdjust="spacingAndGlyphs" class="n">Castilla y León</text>
<text x="89.7" y="696.4" font-size="16.7" textLength="96.3" lengthAdjust="spacingAndGlyphs" class="n b">46,4<tspan class="s" font-size="12">%</tspan> <tspan class="s" font-size="11.5">(550 MW)</tspan></text>
<text x="89.7" y="719" font-size="13.3" textLength="39" lengthAdjust="spacingAndGlyphs" class="n">Aragón</text>
<text x="89.7" y="735.4" font-size="16.7" textLength="95.3" lengthAdjust="spacingAndGlyphs" class="n b">20,8<tspan class="s" font-size="12">%</tspan> <tspan class="s" font-size="11.5">(246 MW)</tspan></text>
<text x="89.7" y="758.5" font-size="13.3" textLength="41.5" lengthAdjust="spacingAndGlyphs" class="n">Navarra</text>
<text x="89.7" y="774.3" font-size="16.7" textLength="87.7" lengthAdjust="spacingAndGlyphs" class="n b">16,5<tspan class="s" font-size="12">%</tspan> <tspan class="s" font-size="11.5">(196 MW)</tspan></text>
<text x="123.5" y="825.3" font-size="35" textLength="56.3" lengthAdjust="spacingAndGlyphs" class="b m">83<tspan class="s" font-size="20">%</tspan></text>
<text x="123" y="847.8" font-size="13.3" textLength="76.2" lengthAdjust="spacingAndGlyphs" class="m">de potencia se</text>
<text x="122.3" y="862.3" font-size="13.3" textLength="77.7" lengthAdjust="spacingAndGlyphs" class="m">concentra en 3</text>
<text x="122.8" y="875.7" font-size="13.3" textLength="31" lengthAdjust="spacingAndGlyphs" class="m">CCAA</text>

<!-- middle column -->
<text x="376" y="327" font-size="16.8" textLength="102" lengthAdjust="spacingAndGlyphs" class="lb b e">GENERACIÓN</text>
<text x="376" y="342" font-size="15.4" textLength="93" lengthAdjust="spacingAndGlyphs" class="lb e">EÓLICA 2024</text>
<text x="253" y="373" font-size="30.7" textLength="84" lengthAdjust="spacingAndGlyphs" class="b">59.378</text>
<text x="341" y="373" font-size="19.6" textLength="35" lengthAdjust="spacingAndGlyphs">GWh</text>
<text x="320.4" y="423" font-size="13.3" textLength="118.8" lengthAdjust="spacingAndGlyphs" class="b m">RANKING DE CCAA</text>
<text x="320.4" y="436" font-size="13.3" textLength="91" lengthAdjust="spacingAndGlyphs" class="m">POR GENERACIÓN</text>
<text x="320.2" y="448.5" font-size="13.3" textLength="36" lengthAdjust="spacingAndGlyphs" class="m">EÓLICA</text>
<text x="283.8" y="484.2" font-size="13.3" textLength="77.5" lengthAdjust="spacingAndGlyphs" class="n">Castilla y León</text>
<text x="283.8" y="500.6" font-size="16.3" textLength="50" lengthAdjust="spacingAndGlyphs" class="n b">20,5<tspan class="s" font-size="12">%</tspan></text>
<text x="283.8" y="524.2" font-size="13.3" textLength="38.7" lengthAdjust="spacingAndGlyphs" class="n">Aragón</text>
<text x="283.8" y="540.6" font-size="16.3" textLength="44.2" lengthAdjust="spacingAndGlyphs" class="n b">18,8<tspan class="s" font-size="12">%</tspan></text>
<text x="283.8" y="564.2" font-size="13.3" textLength="101.6" lengthAdjust="spacingAndGlyphs" class="n">Castilla-La Mancha</text>
<text x="283.8" y="580.6" font-size="16.3" textLength="43" lengthAdjust="spacingAndGlyphs" class="n b">14,7<tspan class="s" font-size="12">%</tspan></text>
<text x="283.8" y="604.2" font-size="13.3" textLength="34.8" lengthAdjust="spacingAndGlyphs" class="n">Galicia</text>
<text x="283.8" y="620.6" font-size="16.3" textLength="45.2" lengthAdjust="spacingAndGlyphs" class="n b">14,5<tspan class="s" font-size="12">%</tspan></text>
<text x="283.8" y="644.2" font-size="13.3" textLength="52.2" lengthAdjust="spacingAndGlyphs" class="n">Andalucía</text>
<text x="283.8" y="660.6" font-size="16.3" textLength="23.8" lengthAdjust="spacingAndGlyphs" class="n b">11<tspan class="s" font-size="12">%</tspan></text>
<text x="315" y="707.3" font-size="12.5" textLength="78.3" lengthAdjust="spacingAndGlyphs" class="b m">COBERTURA</text>
<text x="314.8" y="721.3" font-size="11.5" textLength="84" lengthAdjust="spacingAndGlyphs" class="m">DE LA DEMANDA</text>
<text x="316" y="758" font-size="37.7" textLength="59.8" lengthAdjust="spacingAndGlyphs" class="b m">24<tspan class="s" font-size="22">%</tspan></text>

<!-- EÓLICA -->
<text x="552" y="83" font-size="44.7" textLength="145.5" lengthAdjust="spacingAndGlyphs" class="b">EÓLICA</text>
<text x="547" y="154.2" font-size="82" textLength="37" lengthAdjust="spacingAndGlyphs" class="b">1</text>
<text x="581" y="109.7" font-size="20" textLength="8" lengthAdjust="spacingAndGlyphs">a</text>
<text x="598" y="121.5" font-size="25.3" textLength="100.6" lengthAdjust="spacingAndGlyphs">TECNOLOGÍA</text>
<text x="598" y="146.3" font-size="25.3" textLength="68.5" lengthAdjust="spacingAndGlyphs">DEL MIX</text>

<!-- EMPLEO -->
<text x="455.7" y="288" font-size="29.3" textLength="94.3" lengthAdjust="spacingAndGlyphs" class="g b">EMPLEO</text>
<text x="455.7" y="319.6" font-size="31.6" textLength="97.3" lengthAdjust="spacingAndGlyphs" class="b">37.070</text>
<text x="455.7" y="339.6" font-size="7.8" textLength="46.3" lengthAdjust="spacingAndGlyphs">INCREMENTO</text>
<text x="455.7" y="357.8" font-size="19.3" textLength="40.3" lengthAdjust="spacingAndGlyphs">4,7<tspan font-size="14">%</tspan></text>
<text x="456" y="369" font-size="12.6" textLength="37" lengthAdjust="spacingAndGlyphs">ANUAL</text>
<text x="455.7" y="400.7" font-size="14.2" textLength="58.3" lengthAdjust="spacingAndGlyphs" class="g b">DIRECTO</text>
<text x="454.7" y="427" font-size="25" textLength="78.5" lengthAdjust="spacingAndGlyphs" class="b">20.643</text>
<text x="455.7" y="454.7" font-size="14.2" textLength="74" lengthAdjust="spacingAndGlyphs" class="g b">INDIRECTO</text>
<text x="454.7" y="479" font-size="25" textLength="75" lengthAdjust="spacingAndGlyphs" class="b">16.427</text>
<text x="509" y="555.7" font-size="37.7" textLength="78.8" lengthAdjust="spacingAndGlyphs" class="b m">71,5<tspan class="s" font-size="22">%</tspan></text>
<text x="508.5" y="575.4" font-size="10" textLength="67.5" lengthAdjust="spacingAndGlyphs" class="b m">DEL EMPLEO</text>
<text x="508" y="587.7" font-size="10" textLength="57.2" lengthAdjust="spacingAndGlyphs" class="b m">EN 6 CCAA</text>
<text x="643.8" y="318.6" font-size="13.3" textLength="117.8" lengthAdjust="spacingAndGlyphs" class="b m">RANKING DE CCAA</text>
<text x="644" y="331.4" font-size="13.3" textLength="104.9" lengthAdjust="spacingAndGlyphs" class="m">POR EMPLEO EÓLICO</text>
<text x="629" y="372.7" font-size="13.3" textLength="36.5" lengthAdjust="spacingAndGlyphs" class="n">Galicia</text>
<text x="629" y="389.1" font-size="16" textLength="42.7" lengthAdjust="spacingAndGlyphs" class="n b">17,9<tspan class="s" font-size="12">%</tspan></text>
<text x="629" y="410" font-size="13.3" textLength="58" lengthAdjust="spacingAndGlyphs" class="n">País Vasco</text>
<text x="629" y="426.4" font-size="16" textLength="45" lengthAdjust="spacingAndGlyphs" class="n b">16,3<tspan class="s" font-size="12">%</tspan></text>
<text x="629" y="447.2" font-size="13.3" textLength="54" lengthAdjust="spacingAndGlyphs" class="n">Andalucía</text>
<text x="629" y="463.6" font-size="16" textLength="41.7" lengthAdjust="spacingAndGlyphs" class="n b">11,2<tspan class="s" font-size="12">%</tspan></text>
<text x="629" y="484.2" font-size="13.3" textLength="78" lengthAdjust="spacingAndGlyphs" class="n">Castilla y León</text>
<text x="629" y="500.6" font-size="16" textLength="36" lengthAdjust="spacingAndGlyphs" class="n b">9,5<tspan class="s" font-size="12">%</tspan></text>
<text x="629" y="521.7" font-size="13.3" textLength="39.2" lengthAdjust="spacingAndGlyphs" class="n">Aragón</text>
<text x="629" y="538.1" font-size="16" textLength="38.4" lengthAdjust="spacingAndGlyphs" class="n b">8,4<tspan class="s" font-size="12">%</tspan></text>
<text x="629" y="559.2" font-size="13.3" textLength="43" lengthAdjust="spacingAndGlyphs" class="n">Navarra</text>
<text x="629" y="575.6" font-size="16" textLength="38" lengthAdjust="spacingAndGlyphs" class="n b">8,3<tspan class="s" font-size="12">%</tspan></text>

<!-- INDUSTRIA -->
<text x="460.3" y="666.5" font-size="28.9" textLength="218" lengthAdjust="spacingAndGlyphs" class="g b">INDUSTRIA EÓLICA</text>
<text x="460.3" y="688.5" font-size="16.3" textLength="176.5" lengthAdjust="spacingAndGlyphs" class="b">16 DE LAS 17 CCAA TIENEN</text>
<text x="460.3" y="705.2" font-size="16.3" textLength="170.3" lengthAdjust="spacingAndGlyphs" class="b">CENTROS INDUSTRIALES</text>
<text x="455.5" y="771" font-size="37.7" textLength="107.4" lengthAdjust="spacingAndGlyphs" class="b">22.486</text>
<text x="455.5" y="815.4" font-size="37.7" textLength="83.5" lengthAdjust="spacingAndGlyphs" class="b">1.412</text>
<text x="457" y="857.3" font-size="37.7" textLength="60.5" lengthAdjust="spacingAndGlyphs" class="b">287</text>
<line x1="592.4" y1="732.4" x2="539" y2="861.5" stroke="#fff" stroke-width="1.2"/>
<g fill="#74b95a" stroke="#1f3a72" stroke-width="1"><circle cx="581" cy="759.5" r="6.7"/><circle cx="562.9" cy="803.4" r="6.7"/><circle cx="546" cy="847.3" r="6.7"/></g>
<text x="595.3" y="759.5" font-size="10.9" textLength="106.7" lengthAdjust="spacingAndGlyphs" class="b">AEROGENERADORES</text>
<text x="595.3" y="772.4" font-size="10.9" textLength="59.1" lengthAdjust="spacingAndGlyphs" class="b">EN ESPAÑA</text>
<text x="581" y="798.8" font-size="10.9" textLength="125" lengthAdjust="spacingAndGlyphs" class="b">PARQUE EÓLICOS EN 868</text>
<text x="581" y="811.4" font-size="10.9" textLength="134.5" lengthAdjust="spacingAndGlyphs" class="b">MUNICIPIOS, EN 11% TOTAL</text>
<text x="581" y="823.8" font-size="10.9" textLength="105" lengthAdjust="spacingAndGlyphs" class="b">MUNICIPIOS ESPAÑA</text>
<text x="562" y="847.8" font-size="10.9" textLength="48.6" lengthAdjust="spacingAndGlyphs" class="b">CENTROS</text>
<text x="562" y="860.2" font-size="10.9" textLength="76" lengthAdjust="spacingAndGlyphs" class="b">INDUSTRIALES</text>

<!-- titles right -->
<text x="829.6" y="101.8" font-size="51.1" textLength="385.7" lengthAdjust="spacingAndGlyphs" class="b">PRINCIPALES CIFRAS</text>
<text x="829.6" y="144.7" font-size="41.3" textLength="437.4" lengthAdjust="spacingAndGlyphs" class="g b">del Sector Eólico en España</text>

<!-- MEDIO AMBIENTE -->
<text x="855.7" y="256" font-size="28.9" textLength="75.6" lengthAdjust="spacingAndGlyphs" class="g b">MEDIO</text>
<text x="855.7" y="281.5" font-size="28.9" textLength="119.8" lengthAdjust="spacingAndGlyphs" class="g b">AMBIENTE</text>
<text x="856.7" y="338.7" font-size="51.2" textLength="100.7" lengthAdjust="spacingAndGlyphs" class="b">30,8</text>
<text x="964.7" y="340" font-size="24" textLength="66.3" lengthAdjust="spacingAndGlyphs">M ton</text>
<text x="857.6" y="368.9" font-size="16.9" textLength="151.4" lengthAdjust="spacingAndGlyphs" class="b">EMISIONES DE CO<tspan font-size="10" dy="2.5">2</tspan></text>
<text x="857.6" y="386.4" font-size="16.5" textLength="116" lengthAdjust="spacingAndGlyphs">EVITADAS CON</text>
<text x="857.6" y="403.9" font-size="16.5" textLength="81.3" lengthAdjust="spacingAndGlyphs">LA EÓLICA</text>
<text x="942" y="463.3" font-size="13.1" textLength="53.1" lengthAdjust="spacingAndGlyphs" class="m">Ahorra la</text>
<text x="941.4" y="479.4" font-size="13.1" textLength="90.4" lengthAdjust="spacingAndGlyphs" class="m">importación de</text>
<text x="941.2" y="525.6" font-size="48.7" textLength="88" lengthAdjust="spacingAndGlyphs" class="b m">11,3</text>
<text x="941.4" y="547.5" font-size="13.1" textLength="66.2" lengthAdjust="spacingAndGlyphs" class="m">millones de</text>
<text x="941.8" y="563" font-size="13.1" textLength="31.6" lengthAdjust="spacingAndGlyphs" class="m">TEPs</text>

<!-- INVERSION -->
<text x="1108" y="248.7" font-size="27.5" textLength="128.4" lengthAdjust="spacingAndGlyphs" class="g b">INVERSIÓN</text>
<text x="1108" y="274" font-size="27.5" textLength="73" lengthAdjust="spacingAndGlyphs" class="g b">EN I+D</text>
<text x="1108" y="319.6" font-size="38.5" textLength="85" lengthAdjust="spacingAndGlyphs" class="b">85,4</text>
<text x="1198" y="319.6" font-size="20.4" textLength="32" lengthAdjust="spacingAndGlyphs">M€</text>
<text x="1108" y="349.2" font-size="19.1" textLength="124.5" lengthAdjust="spacingAndGlyphs" class="b">4,35% del PIB</text>
<text x="1108" y="390.5" font-size="27.9" textLength="69" lengthAdjust="spacingAndGlyphs" class="g b">1.408</text>
<text x="1206.5" y="390.5" font-size="27.9" textLength="33.5" lengthAdjust="spacingAndGlyphs" class="g b">73</text>
<text x="1108" y="415" font-size="12" textLength="49" lengthAdjust="spacingAndGlyphs">Patentes</text>
<text x="1108" y="429" font-size="12" textLength="55.5" lengthAdjust="spacingAndGlyphs">españolas</text>
<text x="1108" y="443.6" font-size="12" textLength="38.3" lengthAdjust="spacingAndGlyphs">eólicas</text>
<text x="1106" y="457.6" font-size="12" textLength="65" lengthAdjust="spacingAndGlyphs">(2004-2022)</text>
<text x="1206.5" y="415" font-size="12" textLength="50.6" lengthAdjust="spacingAndGlyphs">Patentes</text>
<text x="1206.5" y="429" font-size="12" textLength="55.5" lengthAdjust="spacingAndGlyphs">eólicas en</text>
<text x="1206.5" y="443.6" font-size="12" textLength="55.5" lengthAdjust="spacingAndGlyphs">Europa de</text>
<text x="1206.5" y="457.6" font-size="12" textLength="68.8" lengthAdjust="spacingAndGlyphs">procedencia</text>
<text x="1206.5" y="472.2" font-size="12" textLength="50.6" lengthAdjust="spacingAndGlyphs">española</text>
<text x="1206.5" y="486.2" font-size="12" textLength="36.8" lengthAdjust="spacingAndGlyphs">(2022)</text>

<!-- 4.641 circle -->
<text x="1423" y="194.6" font-size="32" textLength="88.3" lengthAdjust="spacingAndGlyphs" class="b m">4.641</text>
<text x="1423" y="215.6" font-size="16.2" textLength="27" lengthAdjust="spacingAndGlyphs" class="m">M€</text>
<text x="1426.5" y="235.3" font-size="13.3" textLength="121" lengthAdjust="spacingAndGlyphs" class="b m">AHORRO PARA LOS</text>
<text x="1426.5" y="250.5" font-size="13.3" textLength="106" lengthAdjust="spacingAndGlyphs" class="b m">CONSUMIDORES</text>
<text x="1426.5" y="266.5" font-size="13.3" textLength="73.7" lengthAdjust="spacingAndGlyphs" class="b m">ESPAÑOLES</text>

<!-- AHORRO -->
<text x="1421" y="341" font-size="27.9" textLength="92" lengthAdjust="spacingAndGlyphs" class="g b m">AHORRO</text>
<text x="1425.4" y="401.3" font-size="58.7" textLength="135" lengthAdjust="spacingAndGlyphs" class="b m">19,88</text>
<text x="1420" y="430" font-size="21" textLength="70" lengthAdjust="spacingAndGlyphs" class="m">€/MWh</text>
<text x="1424.8" y="454" font-size="14.5" textLength="109.6" lengthAdjust="spacingAndGlyphs" class="b m">Reducción en el</text>
<text x="1425" y="468.5" font-size="14.5" textLength="133" lengthAdjust="spacingAndGlyphs" class="b m">precio del mercado</text>
<text x="1424.4" y="483" font-size="14.5" textLength="68" lengthAdjust="spacingAndGlyphs" class="b m">mayorista</text>

<!-- EXPORTACIONES -->
<text x="849.8" y="668" font-size="29.9" textLength="191.4" lengthAdjust="spacingAndGlyphs" class="g b">EXPORTACIONES</text>
<text x="852.7" y="719.3" font-size="50" textLength="163" lengthAdjust="spacingAndGlyphs" class="b">1.953,2</text>
<text x="1023.8" y="719.3" font-size="33.2" textLength="41.6" lengthAdjust="spacingAndGlyphs">M€</text>
<text x="860" y="767.7" font-size="8.7" textLength="24" lengthAdjust="spacingAndGlyphs" class="g b m">CHINA</text>
<text x="909.3" y="767.7" font-size="8.7" textLength="48.5" lengthAdjust="spacingAndGlyphs" class="g b m">DINAMARCA</text>
<text x="965.6" y="767.7" font-size="8.7" textLength="42" lengthAdjust="spacingAndGlyphs" class="g b m">ALEMANIA</text>
<text x="1141.5" y="767.7" font-size="8.7" textLength="25" lengthAdjust="spacingAndGlyphs" class="g b m">EE.UU.</text>
<text x="851.3" y="839.7" font-size="23.3" textLength="17" lengthAdjust="spacingAndGlyphs">1º</text>
<text x="903" y="839.7" font-size="23.3" textLength="17.4" lengthAdjust="spacingAndGlyphs">2º</text>
<text x="956" y="839.7" font-size="23.3" textLength="17.6" lengthAdjust="spacingAndGlyphs">3º</text>
<text x="1133" y="839.7" font-size="23.3" textLength="18" lengthAdjust="spacingAndGlyphs">5º</text>
<text x="1056" y="767.7" font-size="14.2" textLength="51.8" lengthAdjust="spacingAndGlyphs" class="b m">ESPAÑA</text>
<text x="1007" y="868.5" font-size="30" textLength="24" lengthAdjust="spacingAndGlyphs" class="m">4º</text>
<text x="1028.7" y="851.7" font-size="11.7" textLength="49.7" lengthAdjust="spacingAndGlyphs" class="n b">Exportador</text>
<text x="1028.7" y="861.7" font-size="11.7" textLength="60.8" lengthAdjust="spacingAndGlyphs" class="n b">del mundo de</text>
<text x="1028.7" y="872" font-size="11.7" textLength="77.3" lengthAdjust="spacingAndGlyphs" class="n b">aerogeneradores</text>

<!-- APORTACION -->
<text x="1231.6" y="597" font-size="29.3" textLength="151.4" lengthAdjust="spacingAndGlyphs" class="g b">APORTACIÓN</text>
<text x="1231.6" y="623.5" font-size="29.3" textLength="76.4" lengthAdjust="spacingAndGlyphs" class="g b">AL PIB</text>
<text x="1233" y="667.6" font-size="42.7" textLength="108.8" lengthAdjust="spacingAndGlyphs" class="b">3.274,3</text>
<text x="1350.6" y="667.6" font-size="26" textLength="30" lengthAdjust="spacingAndGlyphs">M€</text>
<text x="1233" y="692.4" font-size="11.5" textLength="48.4" lengthAdjust="spacingAndGlyphs" class="g b">DIRECTO</text>
<text x="1233" y="713.4" font-size="20.7" textLength="66.3" lengthAdjust="spacingAndGlyphs" class="b">1.962,3</text>
<text x="1304" y="713.4" font-size="10.8" textLength="16" lengthAdjust="spacingAndGlyphs">M€</text>
<text x="1233" y="733.6" font-size="11.5" textLength="61" lengthAdjust="spacingAndGlyphs" class="g b">INDIRECTO</text>
<text x="1233" y="754.6" font-size="20.7" textLength="63" lengthAdjust="spacingAndGlyphs" class="b">1.312,1</text>
<text x="1300.7" y="754.6" font-size="10.8" textLength="16" lengthAdjust="spacingAndGlyphs">M€</text>
<text x="1353.9" y="711" font-size="25.1" textLength="65.1" lengthAdjust="spacingAndGlyphs" class="b">CARGA</text>
<text x="1353.9" y="734.8" font-size="25.1" textLength="66" lengthAdjust="spacingAndGlyphs" class="b">FISCAL</text>
<text x="1427.9" y="705" font-size="7.7" textLength="45.4" lengthAdjust="spacingAndGlyphs">INCREMENTO</text>
<text x="1427.9" y="722.4" font-size="18.7" textLength="25" lengthAdjust="spacingAndGlyphs">4<tspan font-size="14">%</tspan></text>
<text x="1427.9" y="734.3" font-size="12.6" textLength="38.6" lengthAdjust="spacingAndGlyphs">ANUAL</text>
<text x="1352.5" y="777.7" font-size="46.6" textLength="71.5" lengthAdjust="spacingAndGlyphs" class="b">589</text>
<text x="1431" y="777.7" font-size="20" textLength="26.8" lengthAdjust="spacingAndGlyphs">M€</text>
<text x="1353.9" y="810.5" font-size="10.5" textLength="51.7" lengthAdjust="spacingAndGlyphs" class="n b">TRIBUTOS</text>
<text x="1353.9" y="830.7" font-size="21.4" textLength="36.3" lengthAdjust="spacingAndGlyphs" class="n">378</text>
<text x="1395" y="830.7" font-size="11.2" textLength="17" lengthAdjust="spacingAndGlyphs" class="n">M€</text>
<text x="1353.9" y="850.8" font-size="10.5" textLength="120.8" lengthAdjust="spacingAndGlyphs" class="n b">IMPUESTO SOCIEDADES</text>
<text x="1353.9" y="872.7" font-size="21.4" textLength="35.3" lengthAdjust="spacingAndGlyphs" class="n">211</text>
<text x="1394" y="872.7" font-size="11.2" textLength="15.5" lengthAdjust="spacingAndGlyphs" class="n">M€</text>
<text x="1282.8" y="831.4" font-size="33.5" textLength="77.3" lengthAdjust="spacingAndGlyphs" class="b m">0,25<tspan class="s" font-size="20">%</tspan></text>
<text x="1281.4" y="848.1" font-size="11.6" textLength="82.2" lengthAdjust="spacingAndGlyphs" class="b m">de PIB español</text>
<text x="1530" y="824" font-size="9.5" textLength="102.6" lengthAdjust="spacingAndGlyphs" class="m" transform="rotate(-90 1530 820.7)">Datos a noviembre 2025</text>

<!-- bottom -->
<text x="49.8" y="1025.1" font-size="45" textLength="88.9" lengthAdjust="spacingAndGlyphs" class="n b">Datos</text>
<text x="49.8" y="1064.6" font-size="45" textLength="167.9" lengthAdjust="spacingAndGlyphs" class="n b">mundiales</text>
<text x="257.3" y="969.7" font-size="27" textLength="81.1" lengthAdjust="spacingAndGlyphs" class="bl b">114.889</text>
<text x="342" y="969.7" font-size="16.3" textLength="26" lengthAdjust="spacingAndGlyphs" class="bl">MW</text>
<text x="257.3" y="984.5" font-size="12.6" textLength="125.1" lengthAdjust="spacingAndGlyphs" class="nb">Nueva potencia 2024</text>
<text x="257.3" y="1017.5" font-size="19.6" textLength="67.2" lengthAdjust="spacingAndGlyphs" class="cy">106.889</text>
<text x="329.6" y="1017.5" font-size="13.3" textLength="20.7" lengthAdjust="spacingAndGlyphs" class="cy">MW</text>
<text x="257.3" y="1030.8" font-size="10" textLength="70.8" lengthAdjust="spacingAndGlyphs" class="cy">Eólica terrestre</text>
<text x="257.3" y="1053.7" font-size="19.6" textLength="47.6" lengthAdjust="spacingAndGlyphs" class="cy">8.000</text>
<text x="309" y="1053.7" font-size="13.3" textLength="21.7" lengthAdjust="spacingAndGlyphs" class="cy">MW</text>
<text x="257.3" y="1065.7" font-size="10" textLength="63" lengthAdjust="spacingAndGlyphs" class="cy">Eólica marina</text>
<text x="382.3" y="1025.8" font-size="7" textLength="46.6" lengthAdjust="spacingAndGlyphs" class="m">INCREMENTO</text>
<text x="381.5" y="1044" font-size="19.6" textLength="27" lengthAdjust="spacingAndGlyphs" class="m">11<tspan font-size="14">%</tspan></text>
<text x="382" y="1055.3" font-size="11.6" textLength="36" lengthAdjust="spacingAndGlyphs" class="m">ANUAL</text>
<text x="467" y="951.5" font-size="10.5" textLength="99.2" lengthAdjust="spacingAndGlyphs" class="b m">RANKING DE PAÍSES</text>
<text x="466.4" y="963.5" font-size="10.5" textLength="111.1" lengthAdjust="spacingAndGlyphs" class="m">QUE MÁS POTENCIA HAN</text>
<text x="466.8" y="974.7" font-size="10.5" textLength="91.6" lengthAdjust="spacingAndGlyphs" class="m">INSTALADO EN 2024</text>
<text x="450.6" y="1012.8" font-size="13.7" textLength="26.9" lengthAdjust="spacingAndGlyphs" class="bl e">65%</text>
<text x="472.8" y="1012.8" font-size="13.7" textLength="35.2" lengthAdjust="spacingAndGlyphs" class="bl">China</text>
<text x="450.6" y="1031.5" font-size="13.7" textLength="17.6" lengthAdjust="spacingAndGlyphs" class="bl e">3%</text>
<text x="472.8" y="1031.5" font-size="13.7" textLength="33.6" lengthAdjust="spacingAndGlyphs" class="bl">EEUU</text>
<text x="450.6" y="1050.2" font-size="13.7" textLength="17.6" lengthAdjust="spacingAndGlyphs" class="bl e">3%</text>
<text x="472.8" y="1050.2" font-size="13.7" textLength="29.4" lengthAdjust="spacingAndGlyphs" class="bl">India</text>
<text x="559" y="976.4" font-size="38.3" textLength="81.7" lengthAdjust="spacingAndGlyphs" class="bl b">2.511</text>
<text x="645.9" y="976.4" font-size="17.5" textLength="37.1" lengthAdjust="spacingAndGlyphs" class="bl">TWh</text>
<text x="560.6" y="1001.7" font-size="16.5" textLength="118.9" lengthAdjust="spacingAndGlyphs" class="bl b">GENERACIÓN</text>
<text x="560.6" y="1019.6" font-size="16.5" textLength="64.6" lengthAdjust="spacingAndGlyphs" class="bl b">EÓLICA</text>
<text x="559" y="1045" font-size="12.3" textLength="182.5" lengthAdjust="spacingAndGlyphs" class="cy">25,4% DE LA GENERACIÓN EERR</text>
<text x="559" y="1058.4" font-size="12.3" textLength="170.6" lengthAdjust="spacingAndGlyphs" class="cy">8% DE LA GENERACIÓN TOTAL</text>
<text x="848" y="966" font-size="25.6" textLength="60.3" lengthAdjust="spacingAndGlyphs" class="bl b">1.136</text>
<text x="911.7" y="966" font-size="14.5" textLength="26.6" lengthAdjust="spacingAndGlyphs" class="bl">GW</text>
<text x="848" y="981" font-size="12.3" textLength="97.5" lengthAdjust="spacingAndGlyphs" class="bl">Potencia mundial</text>
<text x="848" y="994" font-size="12.3" textLength="77" lengthAdjust="spacingAndGlyphs" class="bl">total instalada</text>
<text x="848" y="1021" font-size="17.3" textLength="69.5" lengthAdjust="spacingAndGlyphs" class="cy">1.052,3</text>
<text x="920.4" y="1021" font-size="12.5" textLength="19.3" lengthAdjust="spacingAndGlyphs" class="cy">GW</text>
<text x="848" y="1032" font-size="9.8" textLength="67.5" lengthAdjust="spacingAndGlyphs" class="cy">Eólica terrestre</text>
<text x="848" y="1056.4" font-size="17.3" textLength="40.5" lengthAdjust="spacingAndGlyphs" class="cy">83,2</text>
<text x="893.3" y="1056.4" font-size="12.5" textLength="19.4" lengthAdjust="spacingAndGlyphs" class="cy">GW</text>
<text x="848" y="1067.4" font-size="9.8" textLength="59.8" lengthAdjust="spacingAndGlyphs" class="cy">Eólica marina</text>
<text x="1064.6" y="985.3" font-size="12.5" textLength="33.8" lengthAdjust="spacingAndGlyphs" class="bl e">China</text>
<text x="1064.6" y="1000.9" font-size="12.5" textLength="38.2" lengthAdjust="spacingAndGlyphs" class="bl e">EE.UU.</text>
<text x="1064.6" y="1016.3" font-size="12.5" textLength="54" lengthAdjust="spacingAndGlyphs" class="bl e">Alemania</text>
<text x="1064.6" y="1032.2" font-size="12.5" textLength="28.5" lengthAdjust="spacingAndGlyphs" class="bl e">India</text>
<text x="1064.6" y="1047.6" font-size="12.5" textLength="31.4" lengthAdjust="spacingAndGlyphs" class="bl e">Brasil</text>
<text x="1064.6" y="1065.7" font-size="16" textLength="53" lengthAdjust="spacingAndGlyphs" class="bl e">España</text>
<text x="1083.3" y="985.3" font-size="12.5" textLength="27.5" lengthAdjust="spacingAndGlyphs" class="bl">46 %</text>
<text x="1083.3" y="1000.9" font-size="12.5" textLength="24" lengthAdjust="spacingAndGlyphs" class="bl">14%</text>
<text x="1083.3" y="1016.3" font-size="12.5" textLength="18.4" lengthAdjust="spacingAndGlyphs" class="bl">6%</text>
<text x="1083.3" y="1032.2" font-size="12.5" textLength="18.4" lengthAdjust="spacingAndGlyphs" class="bl">4%</text>
<text x="1083.3" y="1047.6" font-size="12.5" textLength="18.4" lengthAdjust="spacingAndGlyphs" class="bl">3%</text>
<text x="1083.3" y="1065.5" font-size="12.5" textLength="18.4" lengthAdjust="spacingAndGlyphs" class="bl">3%</text>
<text x="983.8" y="1069" font-size="38" textLength="28" lengthAdjust="spacingAndGlyphs" class="m">6º</text>
<text x="1199.9" y="956.2" font-size="11.6" textLength="45" lengthAdjust="spacingAndGlyphs" class="n b">PAÍS EN</text>
<text x="1199.9" y="968" font-size="11.6" textLength="49.3" lengthAdjust="spacingAndGlyphs" class="n b">EUROPA</text>
<text x="1199.9" y="979.8" font-size="11.6" textLength="74" lengthAdjust="spacingAndGlyphs" class="cy">POR POTENCIA</text>
<text x="1199.9" y="991.6" font-size="11.6" textLength="56.5" lengthAdjust="spacingAndGlyphs" class="cy">INSTALADA</text>
<text x="1176.3" y="1024.2" font-size="24.7" textLength="17.7" lengthAdjust="spacingAndGlyphs">1º</text>
<text x="1207.3" y="1021.7" font-size="15.4" textLength="59" lengthAdjust="spacingAndGlyphs" class="cy">Alemania</text>
<text x="1175.2" y="1066" font-size="35" textLength="26.3" lengthAdjust="spacingAndGlyphs">2º</text>
<text x="1215.1" y="1060" font-size="18" textLength="57.7" lengthAdjust="spacingAndGlyphs">España</text>
<text x="1399.3" y="1040.4" font-size="69" textLength="120.1" lengthAdjust="spacingAndGlyphs" class="bl b">AEE</text>
<text x="1345.8" y="1054.5" font-size="13" textLength="174.4" lengthAdjust="spacingAndGlyphs" class="bl">Asociación Empresarial Eólica</text>
</svg>
</body></html>
